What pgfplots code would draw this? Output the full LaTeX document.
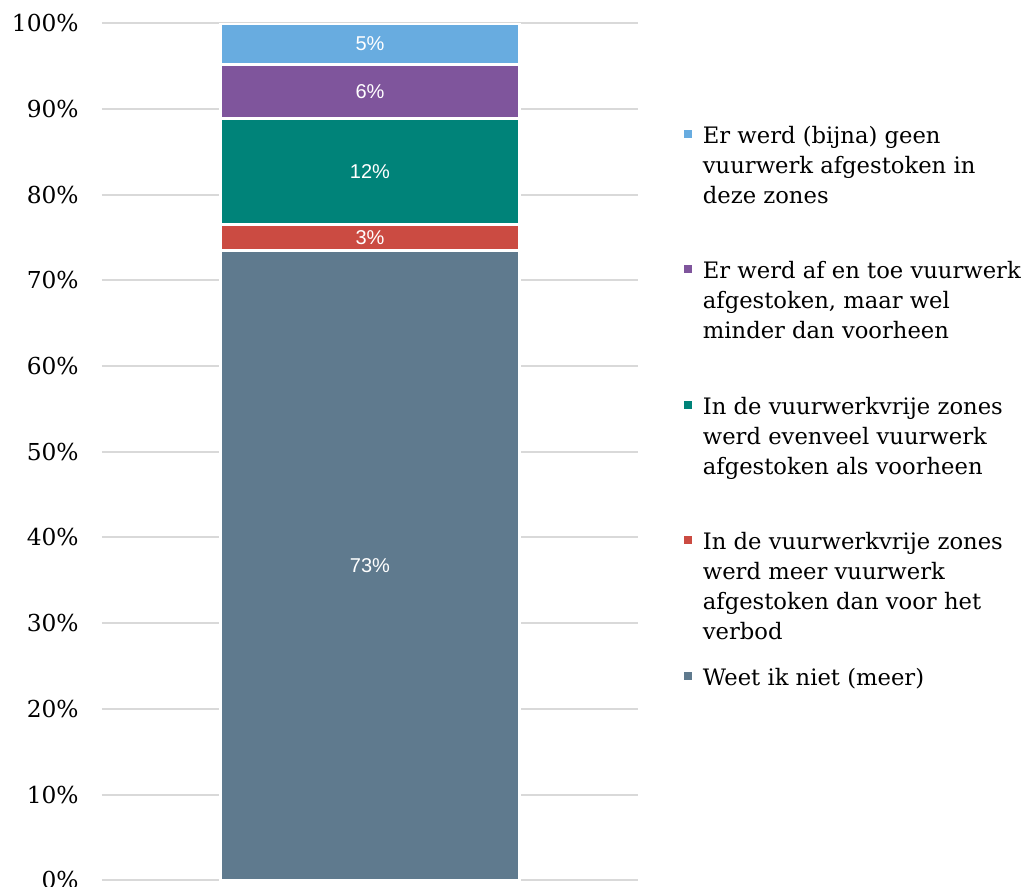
\documentclass[border=0pt]{standalone}
\usepackage{fontspec}
\setmainfont{DejaVu Serif}
\setsansfont{Liberation Sans}
\usepackage{pgfplots}
\pgfplotsset{compat=1.18}
\definecolor{cblue}{HTML}{68ACE0}
\definecolor{cpurple}{HTML}{7F559C}
\definecolor{cteal}{HTML}{008379}
\definecolor{cred}{HTML}{CB4B42}
\definecolor{cslate}{HTML}{5F7A8E}
\definecolor{cgrid}{HTML}{D9D9D9}
\newcommand{\lent}[1]{\raisebox{0pt}[0pt][0pt]{\parbox[t]{250pt}{\raggedright\fontsize{17}{22.5}\selectfont #1\par}}}
\begin{document}
\begin{tikzpicture}
\useasboundingbox (-76.5pt,-5pt) rectangle (691.5pt,660.2pt);
\pgfplotsset{base/.style={width=402pt, height=642.75pt, scale only axis,
  xmin=-1, xmax=1, ymin=0, ymax=100, at={(0,0)}, anchor=south west}}
\begin{axis}[base, ybar stacked, bar width=224pt,
  axis line style={draw=none}, tick style={draw=none},
  ytick={0,10,...,100}, xtick=\empty,
  yticklabel={\pgfmathprintnumber{\tick}\%},
  yticklabel style={anchor=east, xshift=-14pt, font=\fontsize{17.5}{20}\selectfont, /pgf/number format/assume math mode=true},
  ymajorgrids, grid style={cgrid, line width=1.5pt},
  reverse legend,
  legend image code/.code={\path (0pt,0pt); \fill[#1, draw=none] (0pt,4pt) rectangle (6pt,10pt);},
  legend style={at={(axis description cs:1.0835,0.8755)}, anchor=north west,
    draw=none, fill=none, inner sep=0pt, outer sep=0pt, row sep=90.1pt, column sep=8pt,
    cells={anchor=base west}, nodes={inner sep=0pt}},
]
\addplot[fill=cslate, draw=white, line width=2.25pt] coordinates {(0,73.5)};
\addlegendentry{\lent{Weet ik niet (meer)}}
\addplot[fill=cred, draw=white, line width=2.25pt] coordinates {(0,3.0)};
\addlegendentry{\lent{In de vuurwerkvrije zones\newline werd meer vuurwerk\newline afgestoken dan voor het\newline verbod}}
\addplot[fill=cteal, draw=white, line width=2.25pt] coordinates {(0,12.4)};
\addlegendentry{\lent{In de vuurwerkvrije zones\newline werd evenveel vuurwerk\newline afgestoken als voorheen}}
\addplot[fill=cpurple, draw=white, line width=2.25pt] coordinates {(0,6.3)};
\addlegendentry{\lent{Er werd af en toe vuurwerk\newline afgestoken, maar wel\newline minder dan voorheen}}
\addplot[fill=cblue, draw=white, line width=2.25pt] coordinates {(0,4.8)};
\addlegendentry{\lent{Er werd (bijna) geen\newline vuurwerk afgestoken in\newline deze zones}}
\end{axis}
\begin{axis}[base, hide axis]
\addplot[draw=none, mark=none, nodes near coords, point meta=explicit symbolic,
  every node near coord/.append style={anchor=center, text=white, font=\sffamily\fontsize{15}{18}\selectfont}]
  table[meta=label] {
x y label
0 36.75 73\%
0 75.0 3\%
0 82.7 12\%
0 92.05 6\%
0 97.6 5\%
};
\end{axis}
\end{tikzpicture}
\end{document}
